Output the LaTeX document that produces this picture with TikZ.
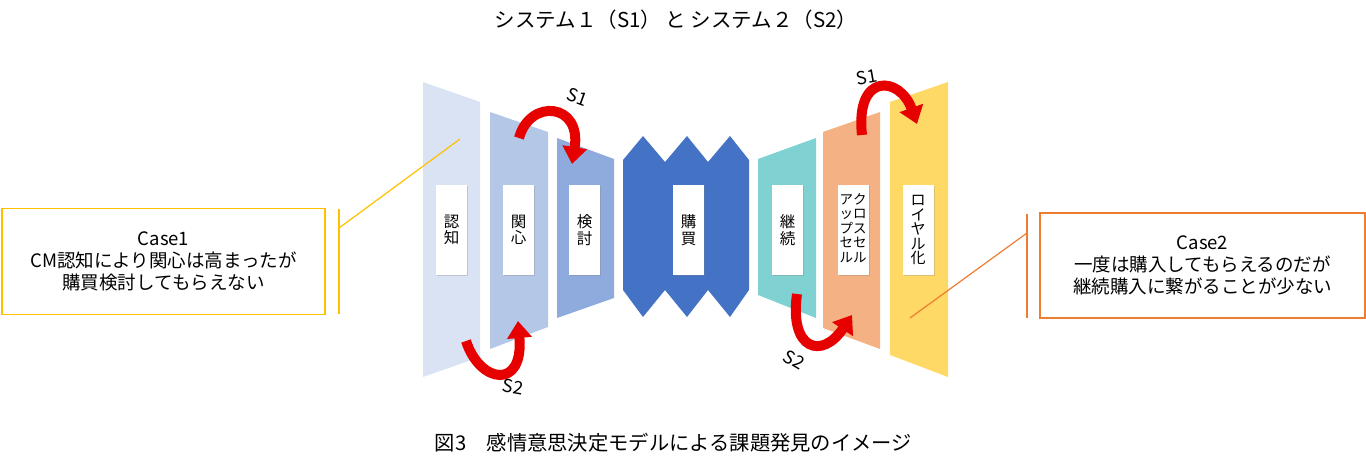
\documentclass[tikz,border=0pt]{standalone}
\usepackage{fontspec}
\setmainfont{Noto Sans CJK JP}
\usetikzlibrary{arrows.meta,shadows}
\definecolor{ninchi}{HTML}{DAE3F3}
\definecolor{kanshin}{HTML}{B4C7E7}
\definecolor{kento}{HTML}{8FAADC}
\definecolor{kobai}{HTML}{4472C4}
\definecolor{keizoku}{HTML}{80D2D2}
\definecolor{crosssell}{HTML}{F4B183}
\definecolor{loyal}{HTML}{FFD966}
\definecolor{caseone}{HTML}{FFC000}
\definecolor{casetwo}{HTML}{ED7D31}
\definecolor{sred}{HTML}{E60000}

\begin{document}
\begin{tikzpicture}[x=1pt, y=-1pt,
    stagebox/.style={fill=white, minimum width=31pt, minimum height=90pt, inner sep=0pt,
        font=\fontsize{15.5}{16.5}\selectfont, align=center,
        drop shadow={opacity=.3, shadow xshift=1pt, shadow yshift=-1pt}},
    sarrow/.style={sred, line width=10pt, -{Triangle[width=24pt, length=17pt]}},
    slabel/.style={font=\fontsize{18}{18}\selectfont},
    casebox/.style={line width=1.3pt, minimum width=323pt, minimum height=106pt,
        align=center, font=\fontsize{18.5}{22}\selectfont}]
\useasboundingbox (0,0) rectangle (1366,470);

\node[font=\fontsize{20.5}{20.5}\selectfont] (title) at (676,20) {システム１（S1） と システム２（S2）};

% funnel
\fill[ninchi] (423,82) -- (480,102) -- (480,357) -- (423,377) -- cycle;
\fill[kanshin] (490,112) -- (548,132) -- (548,327) -- (490,349) -- cycle;
\fill[kento] (557,138) -- (614,159) -- (614,298) -- (557,318) -- cycle;
\fill[kobai] (623,160) -- (643,136) -- (665,162) -- (687,136) -- (708,162) -- (730,136) -- (749,160)
    -- (749,290) -- (730,317) -- (708,290) -- (687,317) -- (665,290) -- (643,317) -- (623,290) -- cycle;
\fill[keizoku] (758,159) -- (816,138) -- (816,318) -- (758,295) -- cycle;
\fill[crosssell] (823,132) -- (880,112) -- (880,349) -- (823,328) -- cycle;
\fill[loyal] (890,102) -- (948,82) -- (948,377) -- (890,355) -- cycle;

\node[stagebox] (ninchi) at (451.5,230) {認\\知};
\node[stagebox] (kanshin) at (518.5,230) {関\\心};
\node[stagebox] (kento) at (584.5,230) {検\\討};
\node[stagebox] (kobai) at (688.5,230) {購\\買};
\node[stagebox] (keizoku) at (787.5,230) {継\\続};
\node[stagebox, font=\fontsize{13.5}{13.5}\selectfont] (cross) at (853,230)
    {\begin{tabular}{@{}c@{}c@{}}ア&ク\\ッ&ロ\\プ&ス\\セ&セ\\ル&ル\end{tabular}};
\node[stagebox, font=\fontsize{15}{14.5}\selectfont] (loyal) at (918,230) {ロ\\イ\\ヤ\\ル\\化};

% S1 / S2
\draw[sarrow] (519,138) .. controls (530,98) and (582,103) .. (572,164);
\draw[sarrow] (466,341) .. controls (480,384) and (524,390) .. (518,321);
\draw[sarrow] (862,135) .. controls (855,72) and (900,76) .. (917,124);
\draw[sarrow] (797,294) .. controls (789,350) and (822,360) .. (852,315);
\node[slabel, rotate=-20] (sa) at (577,97) {S1};
\node[slabel, rotate=-10] (sb) at (513,387) {S2};
\node[slabel, rotate=10] (sc) at (867,77) {S1};
\node[slabel, rotate=-30] (sd) at (794,360) {S2};

% Case1
\node[casebox, draw=caseone] (case1) at (163.5,261.5) {Case1\\CM認知により関心は高まったが\\購買検討してもらえない};
\coordinate (c1top) at (339,209);
\coordinate (c1bot) at (339,314);
\coordinate (c1knee) at (339,228);
\coordinate (c1tip) at (460,139);
\draw[caseone, line width=1.2pt] (c1top) -- (c1bot);
\draw[caseone, line width=1.2pt] (c1knee) -- (c1tip);

% Case2
\node[casebox, draw=casetwo, minimum width=325pt, minimum height=105pt] (case2) at (1202.5,265.5) {Case2\\一度は購入してもらえるのだが\\継続購入に繋がることが少ない};
\coordinate (c2top) at (1027,214);
\coordinate (c2bot) at (1027,318);
\coordinate (c2knee) at (1027,233);
\coordinate (c2tip) at (910,318);
\draw[casetwo, line width=1.2pt] (c2top) -- (c2bot);
\draw[casetwo, line width=1.2pt] (c2knee) -- (c2tip);

\node[font=\fontsize{20.3}{20.3}\selectfont] (caption) at (673.5,443) {図3　感情意思決定モデルによる課題発見のイメージ};
\end{tikzpicture}
\end{document}
